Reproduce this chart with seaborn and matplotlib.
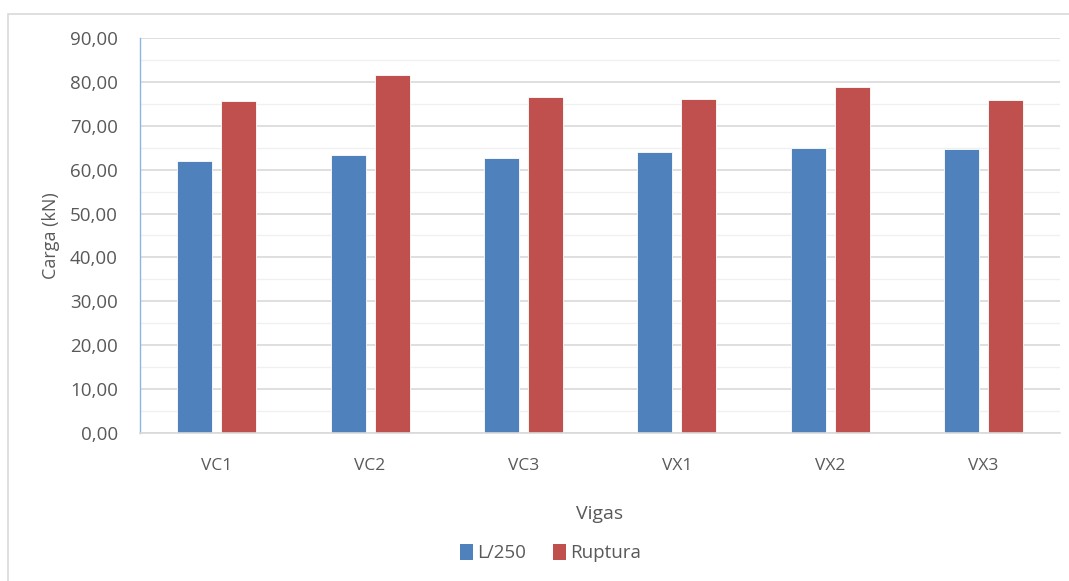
import numpy as np
import pandas as pd
import matplotlib
matplotlib.use("Agg")
import matplotlib.pyplot as plt
import seaborn as sns
from matplotlib.ticker import FuncFormatter, MultipleLocator
from matplotlib.patches import Patch, Rectangle

#datos
vigas = ["VC1", "VC2", "VC3", "VX1", "VX2", "VX3"]
carga_l250 = [62.0, 63.3, 62.7, 64.0, 65.0, 64.6]
carga_ruptura = [75.6, 81.6, 76.6, 76.1, 78.8, 75.9]
series = ["L/250", "Ruptura"]
colores = ["#4F81BD", "#C0504D"]

df = pd.DataFrame({
    "Vigas": vigas * 2,
    "Carga": carga_l250 + carga_ruptura,
    "Serie": [series[0]] * len(vigas) + [series[1]] * len(vigas),
})

sns.set_style("white")
plt.rcParams["font.family"] = ["Open Sans", "DejaVu Sans"]
gris = "#595959"

fig = plt.figure(figsize=(10.69, 5.81), dpi=100)
ax = fig.add_axes([0.131, 0.2547, 0.8606, 0.68])

sns.barplot(data=df, x="Vigas", y="Carga", hue="Serie", palette=colores,
            saturation=1, width=0.574, gap=0.205, ax=ax, legend=False,
            edgecolor="white", linewidth=0.6)

ax.set_ylim(0, 90)
ax.set_xlim(-0.5, len(vigas) - 0.5)
ax.yaxis.set_major_locator(MultipleLocator(10))
ax.yaxis.set_minor_locator(MultipleLocator(5))
ax.yaxis.set_major_formatter(FuncFormatter(lambda v, p: f"{v:.2f}".replace(".", ",")))
ax.grid(axis="y", which="major", color="#D9D9D9", linewidth=1.2)
ax.grid(axis="y", which="minor", color="#F0F0F0", linewidth=1.0)
ax.set_axisbelow(True)

ax.tick_params(axis="y", which="both", length=0, pad=16, labelsize=13.5, labelcolor=gris)
ax.tick_params(axis="x", length=0, pad=18, labelsize=12.5, labelcolor=gris)

for s in ["top", "right"]:
    ax.spines[s].set_visible(False)
ax.spines["left"].set_color("#8EB4E3")
ax.spines["left"].set_linewidth(1.0)
ax.spines["bottom"].set_color("#D9D9D9")
ax.spines["bottom"].set_linewidth(1.2)

ax.set_ylabel("Carga (kN)", fontsize=13, color=gris, labelpad=7)
ax.set_xlabel("Vigas", fontsize=14, color=gris, labelpad=22)

#leyenda abajo
handles = [Patch(facecolor=c, edgecolor="none") for c in colores]
fig.legend(handles, series, loc="center", bbox_to_anchor=(0.515, 0.048),
           ncol=2, frameon=False, fontsize=13.5, labelcolor=gris,
           handlelength=0.7, handleheight=0.9, handletextpad=0.25, columnspacing=1.4)

#borde del area del grafico
fig.patches.append(Rectangle((8 / 1069, -0.1), 1.2, 1 - 14 / 581 + 0.1,
                             transform=fig.transFigure, fill=False,
                             edgecolor="#D9D9D9", linewidth=1.2))

fig.savefig("out.png", dpi=100)
